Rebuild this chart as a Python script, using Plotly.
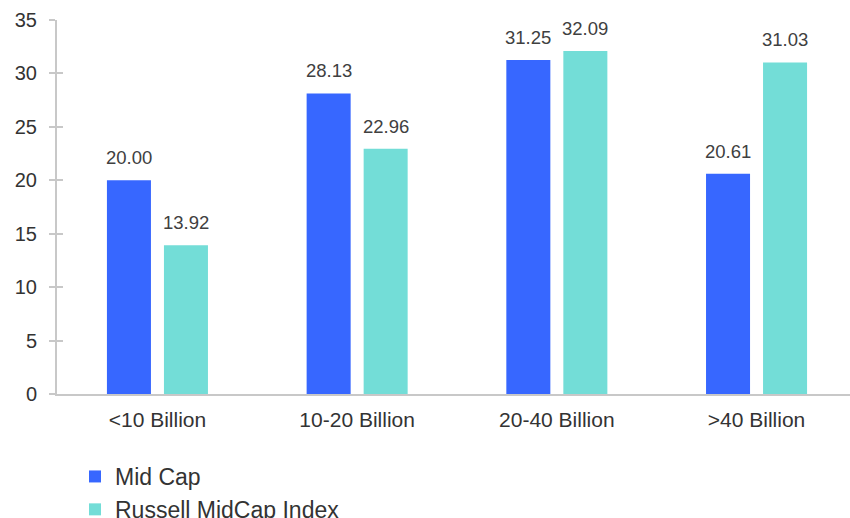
import plotly.graph_objects as go

categories = ["<10 Billion", "10-20 Billion", "20-40 Billion", ">40 Billion"]
mid_cap = [20.00, 28.13, 31.25, 20.61]
russell_midcap = [13.92, 22.96, 32.09, 31.03]
series_names = ["Mid Cap", "Russell MidCap Index"]
y_ticks = [0, 5, 10, 15, 20, 25, 30, 35]

BLUE = "#3767FF"
TEAL = "#73DDD7"
AXIS = "#C8C8C8"
TEXT = "#333333"
LABEL = "#404040"

fig = go.Figure()
fig.add_trace(go.Bar(x=categories, y=mid_cap, name=series_names[0],
                     marker=dict(color=BLUE, line=dict(width=0))))
fig.add_trace(go.Bar(x=categories, y=russell_midcap, name=series_names[1],
                     marker=dict(color=TEAL, line=dict(width=0))))
# empty trace that hosts the inner half of the crossing y ticks
fig.add_trace(go.Scatter(x=[], y=[], yaxis="y2", showlegend=False,
                         hoverinfo="skip"))

# value labels above each bar
annotations = []
for values, shift in ((mid_cap, -28.5), (russell_midcap, 28.5)):
    for cat, v in zip(categories, values):
        annotations.append(dict(
            x=cat, y=v, xref="x", yref="y", text=f"{v:.2f}",
            showarrow=False, xshift=shift, yshift=10, yanchor="bottom",
            font=dict(family="Liberation Sans, Arial", size=18.5, color=LABEL)))

fig.update_layout(
    width=850, height=518, autosize=False,
    margin=dict(l=57, r=0, t=20, b=124, autoexpand=False),
    paper_bgcolor="white", plot_bgcolor="white",
    barmode="group", bargap=0.429, bargroupgap=0.228,
    font=dict(family="Liberation Sans, Arial", color=TEXT),
    xaxis=dict(type="category", range=[-0.503, 3.468], showline=True,
               linecolor=AXIS, linewidth=2, showgrid=False, ticks="",
               tickfont=dict(size=21, color=TEXT), ticklabelstandoff=6,
               automargin=False),
    yaxis=dict(range=[0, 35], tickvals=y_ticks, showline=True, linecolor=AXIS,
               linewidth=2, showgrid=False, zeroline=False, ticks="outside",
               ticklen=6, tickwidth=2, tickcolor=AXIS,
               tickfont=dict(size=20, color=TEXT), ticklabelstandoff=8,
               automargin=False),
    yaxis2=dict(range=[0, 35], tickvals=y_ticks, overlaying="y", side="left",
                showline=False, showgrid=False, zeroline=False, ticks="inside",
                ticklen=6, tickwidth=2, tickcolor=AXIS, showticklabels=False,
                automargin=False),
    showlegend=True,
    legend=dict(orientation="v", xref="container", yref="container",
                x=75 / 850, y=1 - 455 / 518, xanchor="left", yanchor="top",
                font=dict(size=23, color=TEXT), bgcolor="rgba(0,0,0,0)",
                tracegroupgap=0),
    annotations=annotations,
)

fig.write_html("out.html")
